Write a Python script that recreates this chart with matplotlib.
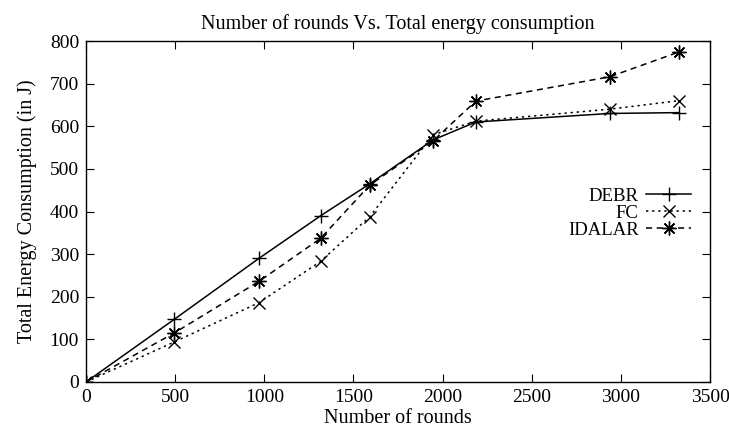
import matplotlib
matplotlib.use("Agg")
import matplotlib.pyplot as plt

rounds = [0, 495, 970, 1316, 1592, 1947, 2187, 2937, 3324]
debr = [0, 147, 290, 390, 465, 568, 610, 630, 632]
fc = [0, 94, 186, 283, 388, 580, 612, 640, 660]
idalar = [0, 115, 236, 337, 462, 566, 659, 716, 774]

plt.rcParams['font.family'] = ['Liberation Serif', 'DejaVu Serif']

fig = plt.figure(figsize=(7.29, 4.32), dpi=100)
ax = fig.add_axes([86/729, 1-382/432, (710-86)/729, (382-41)/432])

lw = 1.1
ax.plot(rounds, debr, color='black', lw=lw, ls='-', marker='+', ms=10, mew=1.0, label='DEBR')
ax.plot(rounds, fc, color='black', lw=lw, ls=(0, (1.5, 2.5)), marker='x', ms=9, mew=1.0, label='FC')
ax.plot(rounds, idalar, color='black', lw=lw, ls=(0, (4, 3)), marker=(8, 2, 0), ms=10, mew=1.0, label='IDALAR')

ax.set_xlim(0, 3500)
ax.set_ylim(0, 800)
ax.set_xticks(range(0, 3501, 500))
ax.set_yticks(range(0, 801, 100))
ax.tick_params(direction='in', top=True, right=True, length=6, labelsize=14, pad=5)
for s in ax.spines.values():
    s.set_linewidth(1.0)

ax.set_title('Number of rounds Vs. Total energy consumption', fontsize=14.5, pad=9)
ax.set_xlabel('Number of rounds', fontsize=14.5, labelpad=2)
ax.set_ylabel('Total Energy Consumption (in J)', fontsize=14.5, labelpad=9)

leg = ax.legend(loc='upper right', bbox_to_anchor=(0.97, 0.57), frameon=False,
                markerfirst=False, fontsize=13.5, handlelength=2.4, handletextpad=0.4,
                labelspacing=0.0, borderaxespad=0, borderpad=0)
for t in leg.get_texts():
    t.set_ha('right')

fig.savefig('out.png', dpi=100)
